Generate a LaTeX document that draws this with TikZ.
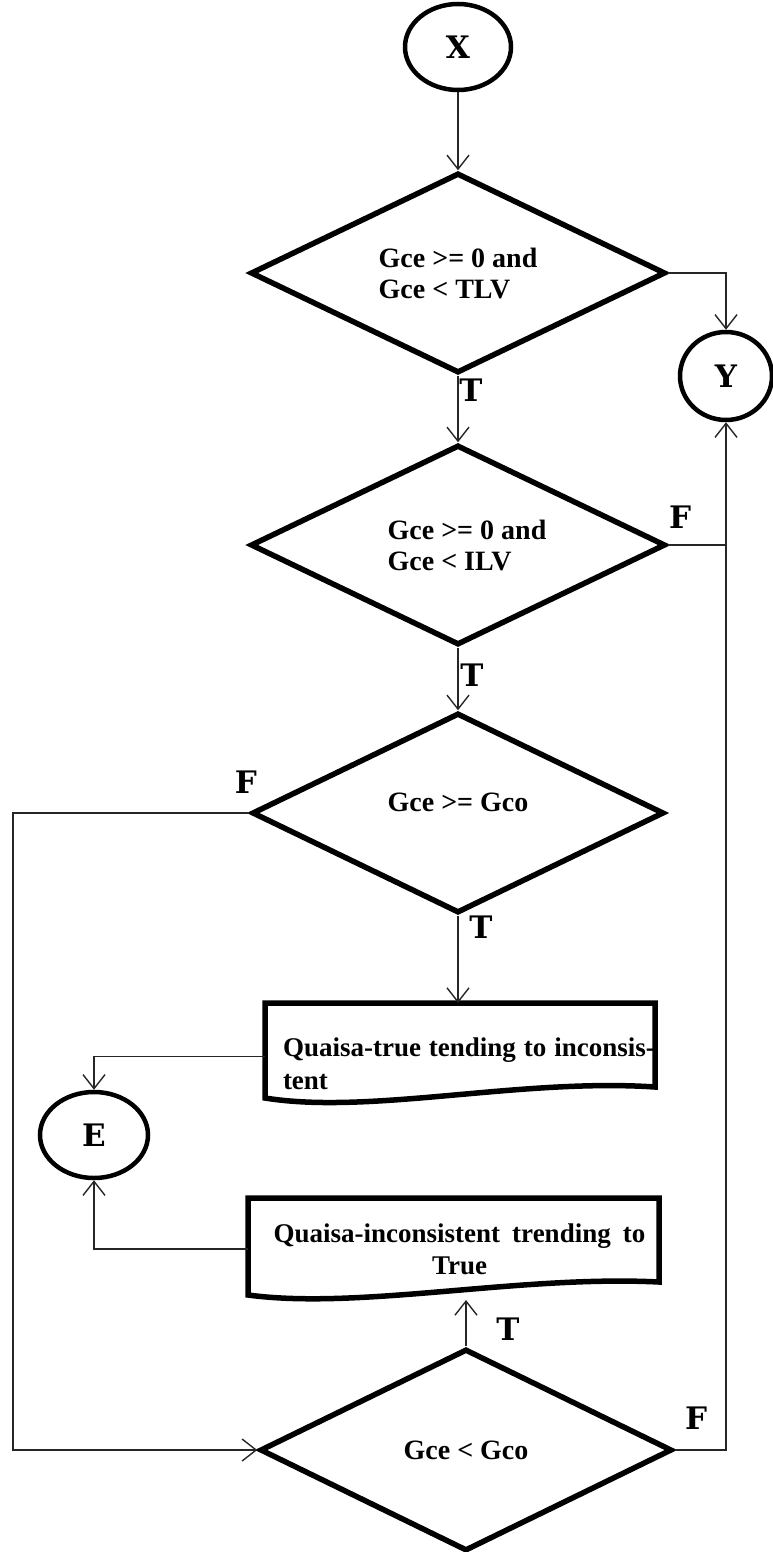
\documentclass[tikz,border=0pt]{standalone}
\usepackage{fontspec}
\setmainfont{Liberation Serif}
\newfontfamily\heavyfont{DejaVu Serif Bold}
\usetikzlibrary{shapes.geometric,arrows.meta,calc}
\begin{document}
\begin{tikzpicture}[x=1pt,y=-1pt,
  dec/.style={shape=diamond, draw, line width=5.5pt, aspect=2, inner sep=0pt,
    minimum width=415pt, minimum height=200pt,
    font=\bfseries\fontsize{28}{31}\selectfont, align=left},
  term/.style={ellipse, draw, line width=4.5pt, inner sep=0pt,
    minimum width=106pt, minimum height=86pt,
    font=\heavyfont\fontsize{31}{31}\selectfont},
  flag/.style={font=\heavyfont\fontsize{31}{31}\selectfont, inner sep=0pt},
  conn/.style={line width=1.4pt, draw=black!85},
  arr/.style={conn, -{Straight Barb[length=14pt,width=22pt]}},
  docbox/.style={inner sep=0pt, outer sep=0pt},
  doctext/.style={inner sep=0pt, outer sep=0pt, font=\bfseries\fontsize{27}{33}\selectfont},
  docline/.style={line width=5.5pt, line join=miter}
]
\useasboundingbox (0,0) rectangle (773,1552);

% terminals
\node[term] (X) at (458,47) {X};
\node[term, minimum width=92pt, minimum height=88pt] (Y) at (726,376) {Y};
\node[term, minimum width=108pt] (E) at (94,1135) {E};

% decisions
\node[dec] (d1) at (458,273) {Gce >= 0 and\\Gce < TLV};
\node[dec] (d2) at (458,545) {\hspace*{18pt}Gce >= 0 and\\\hspace*{18pt}Gce < ILV};
\node[dec, minimum width=412pt] (d3) at (458,813) {\raisebox{22pt}{Gce >= Gco}};
\node[dec, minimum width=412pt, minimum height=202pt] (d4) at (466,1450) {Gce < Gco};

% document boxes
\node[docbox, minimum width=390pt, minimum height=107pt] (b1) at (460,1056.5) {};
\draw[docline] ($(b1.south east)+(0,-23)$) -- (b1.north east) -- (b1.north west)
  -- ($(b1.south west)+(0,-12)$)
  .. controls ($(b1.south west)+(105,5)$) and ($(b1.south east)+(-135,-32)$)
  .. ($(b1.south east)+(0,-23)$) -- cycle;
\node[doctext, anchor=west, align=left] (b1t) at ($(b1.west)+(18,7)$)
  {\makebox[372pt][s]{Quaisa-true tending to inconsis-}\\tent};

\node[docbox, minimum width=411pt, minimum height=102pt] (b2) at (453.5,1249) {};
\draw[docline] ($(b2.south east)+(0,-18)$) -- (b2.north east) -- (b2.north west)
  -- ($(b2.south west)+(0,-5)$)
  .. controls ($(b2.south west)+(112,10)$) and ($(b2.south east)+(-140,-25)$)
  .. ($(b2.south east)+(0,-18)$) -- cycle;
\node[doctext, align=center, font=\bfseries\fontsize{27}{32}\selectfont] (b2t) at ($(b2.center)+(6,0)$)
  {\makebox[372pt][s]{Quaisa-inconsistent trending to}\\True};

% helper coordinate for the left rail
\coordinate (lft) at (13,813);

% connectors
\draw[arr] (X) -- (d1);
\draw[arr] (d1.east) -| (Y.north);
\draw[arr] (d1.south) -- (d2.north);
\draw[conn] (d2.east) -- (d2.east -| Y.south);
\draw[arr] (d4.east) -| (Y.south);
\draw[arr] (d2.south) -- (d3.north);
\draw[arr] (d3.west) -- (lft) |- (d4.west);
\draw[arr] (d3.south) -- (d3.south |- b1.north);
\draw[arr] (b1.west) -| (E.north);
\draw[arr] (b2.west) -| (E.south);
\draw[arr] (d4.north) -- (d4.north |- b2.south);

% branch labels
\node[flag] (tA) at (471,390) {T};
\node[flag] (tB) at (472,675) {T};
\node[flag] (tC) at (481,927) {T};
\node[flag] (tD) at (508,1329) {T};
\node[flag] (fA) at (680,517) {F};
\node[flag] (fB) at (246,782) {F};
\node[flag] (fC) at (696,1418) {F};
\end{tikzpicture}
\end{document}
